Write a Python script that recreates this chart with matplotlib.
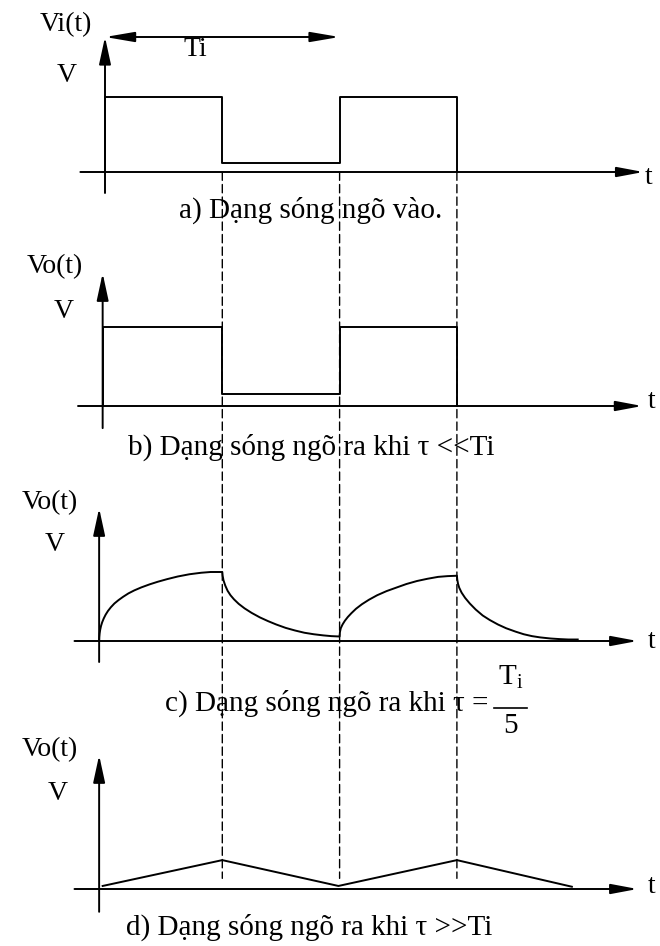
import matplotlib
matplotlib.use("Agg")
from matplotlib import pyplot as plt
from matplotlib.patches import ConnectionPatch

plt.rcParams['font.family'] = ['Liberation Serif', 'DejaVu Serif']
plt.rcParams['mathtext.fontset'] = 'custom'
plt.rcParams['mathtext.rm'] = 'Liberation Serif'

# time in half-periods of the input (edges at 1, 2, 3), voltage in units of V
edge_times = [1, 2, 3]

# a) input square wave
a_t = [0, 0, 1, 1, 2, 2, 3, 3]
a_v = [0, 1, 1, 0.12, 0.12, 1, 1, 0]

# b) output, tau << Ti
b_t = [-0.02, -0.02, 1, 1, 2, 2, 3, 3]
b_v = [0, 1, 1, 0.15, 0.15, 1, 1, 0]

# c) output, tau = Ti/5 (charge / discharge curves)
c_rise1_t = [-0.05, -0.049, -0.046, -0.041, -0.034, -0.024, -0.011, 0.005, 0.025, 0.05,
             0.08, 0.115, 0.155, 0.20, 0.25, 0.31, 0.38, 0.45, 0.53, 0.62,
             0.72, 0.82, 0.90, 1.0]
c_rise1_v = [0.0, 0.05, 0.10, 0.15, 0.20, 0.25, 0.30, 0.35, 0.40, 0.45,
             0.50, 0.545, 0.59, 0.635, 0.675, 0.715, 0.755, 0.79, 0.825, 0.86,
             0.89, 0.91, 0.92, 0.92]
c_fall1_t = [1.003, 1.01, 1.025, 1.045, 1.07, 1.10, 1.14, 1.19, 1.25, 1.32,
             1.39, 1.46, 1.54, 1.62, 1.70, 1.78, 1.86, 1.93, 2.0]
c_fall1_v = [0.87, 0.81, 0.74, 0.67, 0.61, 0.555, 0.495, 0.435, 0.375, 0.315,
             0.265, 0.22, 0.175, 0.14, 0.11, 0.09, 0.075, 0.065, 0.06]
c_rise2_t = [2.003, 2.01, 2.025, 2.045, 2.07, 2.10, 2.14, 2.19, 2.25, 2.32,
             2.40, 2.48, 2.57, 2.66, 2.75, 2.84, 2.92, 3.0]
c_rise2_v = [0.12, 0.17, 0.22, 0.27, 0.32, 0.37, 0.43, 0.49, 0.55, 0.61,
             0.665, 0.71, 0.76, 0.80, 0.83, 0.855, 0.865, 0.87]
c_fall2_t = [3.003, 3.01, 3.02, 3.04, 3.07, 3.11, 3.16, 3.22, 3.28, 3.35,
             3.42, 3.50, 3.57, 3.64, 3.71, 3.80, 3.88, 3.95, 4.03]
c_fall2_v = [0.82, 0.76, 0.71, 0.645, 0.575, 0.50, 0.42, 0.34, 0.28, 0.22,
             0.17, 0.125, 0.09, 0.065, 0.048, 0.033, 0.025, 0.02, 0.02]
c_t = c_rise1_t + c_fall1_t + c_rise2_t + c_fall2_t
c_v = c_rise1_v + c_fall1_v + c_rise2_v + c_fall2_v

# d) output, tau >> Ti
d_t = [-0.02, 1.0, 1.99, 3.0, 3.98]
d_v = [0.04, 0.38, 0.04, 0.38, 0.03]

captions = ["a) Dạng sóng ngõ vào.",
            "b) Dạng sóng ngõ ra khi τ <<Ti",
            "c) Dạng sóng ngõ ra khi τ =",
            "d) Dạng sóng ngõ ra khi τ >>Ti"]
y_labels = ["Vi(t)", "Vo(t)", "Vo(t)", "Vo(t)"]

W, H = 660, 946
x0_px, half_px = 105, 117.3
# per panel: baseline (px from top), px per volt, vertical axis x, axis ends
panels = [
    dict(base=172, ppv=75, vx=0.0, vtop=1.80, vbot=-0.28, hx=(-0.21, 4.59),
         lab=(-0.11, 1.97), vlab=(-0.24, 1.29), tlab=(4.60, -0.07), cap=(1.75, -0.51)),
    dict(base=406, ppv=79, vx=-0.02, vtop=1.68, vbot=-0.28, hx=(-0.23, 4.58),
         lab=(-0.19, 1.77), vlab=(-0.27, 1.20), tlab=(4.63, 0.06), cap=(1.76, -0.52)),
    dict(base=641, ppv=75, vx=-0.05, vtop=1.77, vbot=-0.28, hx=(-0.26, 4.54),
         lab=(-0.23, 1.84), vlab=(-0.34, 1.29), tlab=(4.63, -0.01), cap=(0.51, -0.93)),
    dict(base=889, ppv=76, vx=-0.05, vtop=1.76, vbot=-0.30, hx=(-0.26, 4.54),
         lab=(-0.23, 1.84), vlab=(-0.32, 1.26), tlab=(4.63, 0.03), cap=(1.74, -0.51)),
]
signals = [(a_t, a_v), (b_t, b_v), (c_t, c_v), (d_t, d_v)]

LW = 1.4
FS_LAB = 20
FS_CAP = 21

fig = plt.figure(figsize=(W / 100, H / 100), dpi=100)


def arrow(ax, start, tip, style='-|>', hl=0.8, hw=0.16):
    ax.annotate('', xy=tip, xytext=start,
                arrowprops=dict(arrowstyle=f'{style},head_length={hl},head_width={hw}',
                                mutation_scale=20, lw=LW, color='black',
                                shrinkA=0, shrinkB=0))


axes = []
for p, (ts, vs), cap, lab in zip(panels, signals, captions, y_labels):
    ax = fig.add_axes([0, 0, 1, 1])
    ax.patch.set_alpha(0)
    ax.axis('off')
    ax.set_xlim(-x0_px / half_px, (W - x0_px) / half_px)
    ymax = p['base'] / p['ppv']
    ax.set_ylim(ymax - H / p['ppv'], ymax)

    # axes with arrow heads
    arrow(ax, (p['hx'][0], 0), (p['hx'][1], 0), hl=0.8, hw=0.15)
    arrow(ax, (p['vx'], p['vbot']), (p['vx'], p['vtop']), hl=0.83, hw=0.18)

    ax.plot(ts, vs, color='black', lw=LW, solid_joinstyle='round', clip_on=False)

    ax.text(*p['lab'], lab, fontsize=FS_LAB, ha='right', va='center')
    ax.text(*p['vlab'], "V", fontsize=FS_LAB, ha='right', va='center')
    ax.text(*p['tlab'], "t", fontsize=FS_LAB, ha='left', va='center')
    if cap.startswith("c)"):
        ax.text(*p['cap'], cap, fontsize=FS_CAP, ha='left', va='baseline')
    else:
        ax.text(*p['cap'], cap, fontsize=FS_CAP, ha='center', va='center')
    axes.append(ax)

ax_a, ax_b, ax_c, ax_d = axes

# period marker Ti above the input
arrow(ax_a, (0, 1.8), (2, 1.8), style='<|-|>', hl=0.88, hw=0.15)
ax_a.text(0.77, 1.64, "Ti", fontsize=FS_LAB, ha='center', va='center')

# tau = Ti / 5 written as a fraction
ax_c.text(3.46, -0.49, r"$\mathregular{T_i}$", fontsize=FS_CAP, ha='center', va='center')
ax_c.plot([3.32, 3.60], [-0.89, -0.89], color='black', lw=1.2, clip_on=False)
ax_c.text(3.46, -1.13, "5", fontsize=FS_CAP, ha='center', va='center')

# dashed guides at the switching instants, running from a) down into d)
for t in edge_times:
    con = ConnectionPatch(xyA=(t, 0), coordsA=ax_a.transData,
                          xyB=(t, 0.14), coordsB=ax_d.transData,
                          color='black', lw=1.0, linestyle=(0, (6, 3)))
    fig.add_artist(con)

fig.savefig("out.png", dpi=100)
